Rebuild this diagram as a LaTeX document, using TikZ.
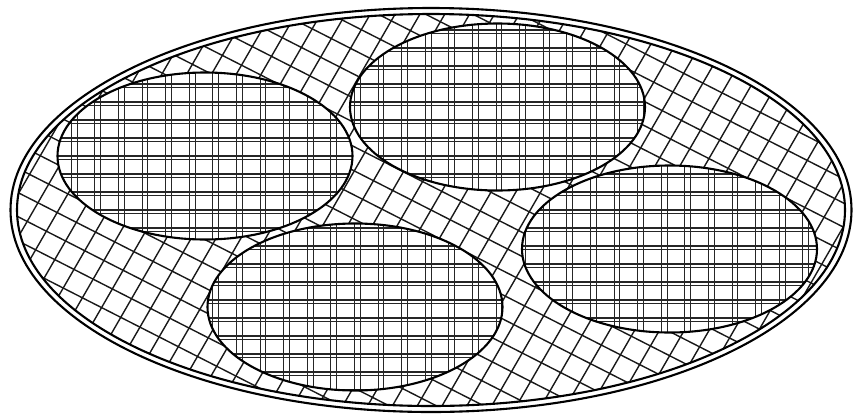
\documentclass[tikz,border=0pt]{standalone}
\begin{document}
\begin{tikzpicture}[x=1pt,y=-1pt,
  outline/.style={line width=2.1pt,black},
  hatchline/.style={line width=1.4pt,black!90},
  plaid/.style={line width=1.15pt,black!85}]
\useasboundingbox (0,0) rectangle (862,416);
\fill[white] (0,0) rectangle (862,416);
% oblique hatching of the large dish
\begin{scope}
  \clip (431,210) ellipse [x radius=414, y radius=196];
  \foreach \a in {27,-60} {
    \foreach \t in {-24,...,24} {
      \draw[hatchline] ({431 - \t*21.5*sin(\a) - 700*cos(\a)}, {210 + \t*21.5*cos(\a) - 700*sin(\a)})
        -- ++({1400*cos(\a)}, {1400*sin(\a)});
    }
  }
\end{scope}
% double outline of the large dish
\draw[outline] (431,210) ellipse [x radius=420.5, y radius=202];
\draw[outline] (431,210) ellipse [x radius=414, y radius=196];
% four small ellipses with plaid grid
\foreach \cx/\cy in {205/156, 497.5/107, 669.5/249, 355/307} {
  \begin{scope}
    \clip (\cx,\cy) ellipse [x radius=147.5, y radius=83.5];
    \fill[white] (\cx,\cy) ellipse [x radius=148, y radius=84];
    \foreach \k in {0,...,37} {
      \draw[plaid] ({\k*23.6+0.5},0) -- ++(0,416);
      \draw[plaid] ({\k*23.6+6.3},0) -- ++(0,416);
    }
    \foreach \k in {0,...,23} {
      \draw[plaid] (0,{\k*18+12}) -- ++(862,0);
      \draw[plaid] (0,{\k*18+15.8}) -- ++(862,0);
    }
  \end{scope}
  \draw[outline] (\cx,\cy) ellipse [x radius=147.5, y radius=83.5];
}
\end{tikzpicture}
\end{document}
